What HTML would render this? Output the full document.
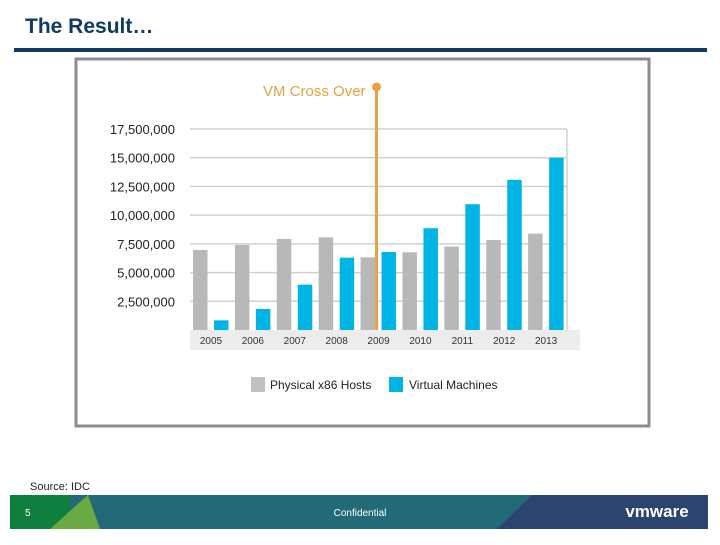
<!DOCTYPE html>
<html><head><meta charset="utf-8"><style>
body{margin:0;width:720px;height:540px;background:#fff;overflow:hidden;font-family:"Liberation Sans",sans-serif;}
</style></head><body>
<svg width="720" height="540" xmlns="http://www.w3.org/2000/svg" font-family="Liberation Sans, sans-serif">
<text x="25" y="33" font-size="21" font-weight="bold" fill="#0f3a63">The Result…</text>
<rect x="14" y="48" width="693" height="4" fill="#0f3a63"/>
<rect x="76" y="59" width="573" height="367" fill="#fff" stroke="#8c8c8c" stroke-width="3"/>
<g id="chart"></g>
<text x="30" y="490" font-size="11" fill="#222">Source: IDC</text>
<g>
<rect x="10" y="495" width="698" height="34" fill="#236a78"/>
<rect x="10" y="495" width="60" height="34" fill="#0e7f3c"/>
<polygon points="50,529 88,495 100,529" fill="#6aaa43"/>
<polygon points="497,529 532,495 708,495 708,529" fill="#2c4470"/>
<text x="25" y="516" font-size="10" fill="#fff">5</text>
<text x="360" y="516" font-size="10" fill="#fff" text-anchor="middle">Confidential</text>
<text x="657" y="517" font-size="17" font-weight="bold" fill="#fff" text-anchor="middle">vmware</text>
</g>
</svg>
<script>
const years=["2005","2006","2007","2008","2009","2010","2011","2012","2013"];
const physical=[6970000,7400000,7930000,8070000,6330000,6770000,7260000,7840000,8390000];
const virtualM=[840000,1830000,3950000,6300000,6790000,8860000,10950000,13070000,15000000];
const ticks=[2500000,5000000,7500000,10000000,12500000,15000000,17500000];
const tickLabels=["2,500,000","5,000,000","7,500,000","10,000,000","12,500,000","15,000,000","17,500,000"];
const crossIndex=4;
const NS="http://www.w3.org/2000/svg";
const g=document.getElementById('chart');
const x0=190,x1=567,yb=330,yt=129,maxV=17500000;
const y=v=>yb-(v/maxV)*(yb-yt);
const step=(x1-x0)/years.length;
const gx=i=>x0+i*step;
function mk(t,a,txt){const e=document.createElementNS(NS,t);for(const k in a)e.setAttribute(k,a[k]);if(txt!=null)e.textContent=txt;g.appendChild(e);return e;}
ticks.forEach((t,i)=>{
 const l=mk('line',{x1:x0,x2:x1,y1:y(t),y2:y(t),stroke:'#d0d0d0','stroke-width':1.5});
 
 
 const tx=mk('text',{x:175,y:y(t)+5,'font-size':13,'text-anchor':'end',fill:'#222'},tickLabels[i]);
 
 
});
const rl=mk('line',{x1:x1,x2:x1,y1:yt,y2:yb,stroke:'#d0d0d0','stroke-width':1.5});


const lb=mk('rect',{x:190,y:330,width:390,height:20,fill:'#ececec'});


years.forEach((yr,i)=>{
 const b1=mk('rect',{x:gx(i)+3,y:y(physical[i]),width:14.5,height:yb-y(physical[i]),fill:'#b8b8b8'});
 
 
 const b2=mk('rect',{x:gx(i)+24,y:y(virtualM[i]),width:14.5,height:yb-y(virtualM[i]),fill:'#00b4e6'});
 
 
 const t=mk('text',{x:gx(i)+21,y:344,'font-size':10,'text-anchor':'middle',fill:'#333'},yr);
 
 
});
const cx=gx(crossIndex)+19;
const cl=mk('line',{x1:cx,x2:cx,y1:88,y2:yb,stroke:'#e8a040','stroke-width':3});


const cd=mk('circle',{cx:cx,cy:87,r:4.5,fill:'#e8a040'});


const ct=mk('text',{x:cx-11,y:96,'font-size':15,'text-anchor':'end',fill:'#e8a040'},'VM Cross Over');


const s1=mk('rect',{x:251,y:377,width:14,height:15,fill:'#c0c0c0'});


const l1=mk('text',{x:270,y:389,'font-size':12,fill:'#222'},'Physical x86 Hosts');


const s2=mk('rect',{x:389,y:377,width:14,height:15,fill:'#00b4e6'});


const l2=mk('text',{x:409,y:389,'font-size':12,fill:'#222'},'Virtual Machines');


</script>
</body></html>
